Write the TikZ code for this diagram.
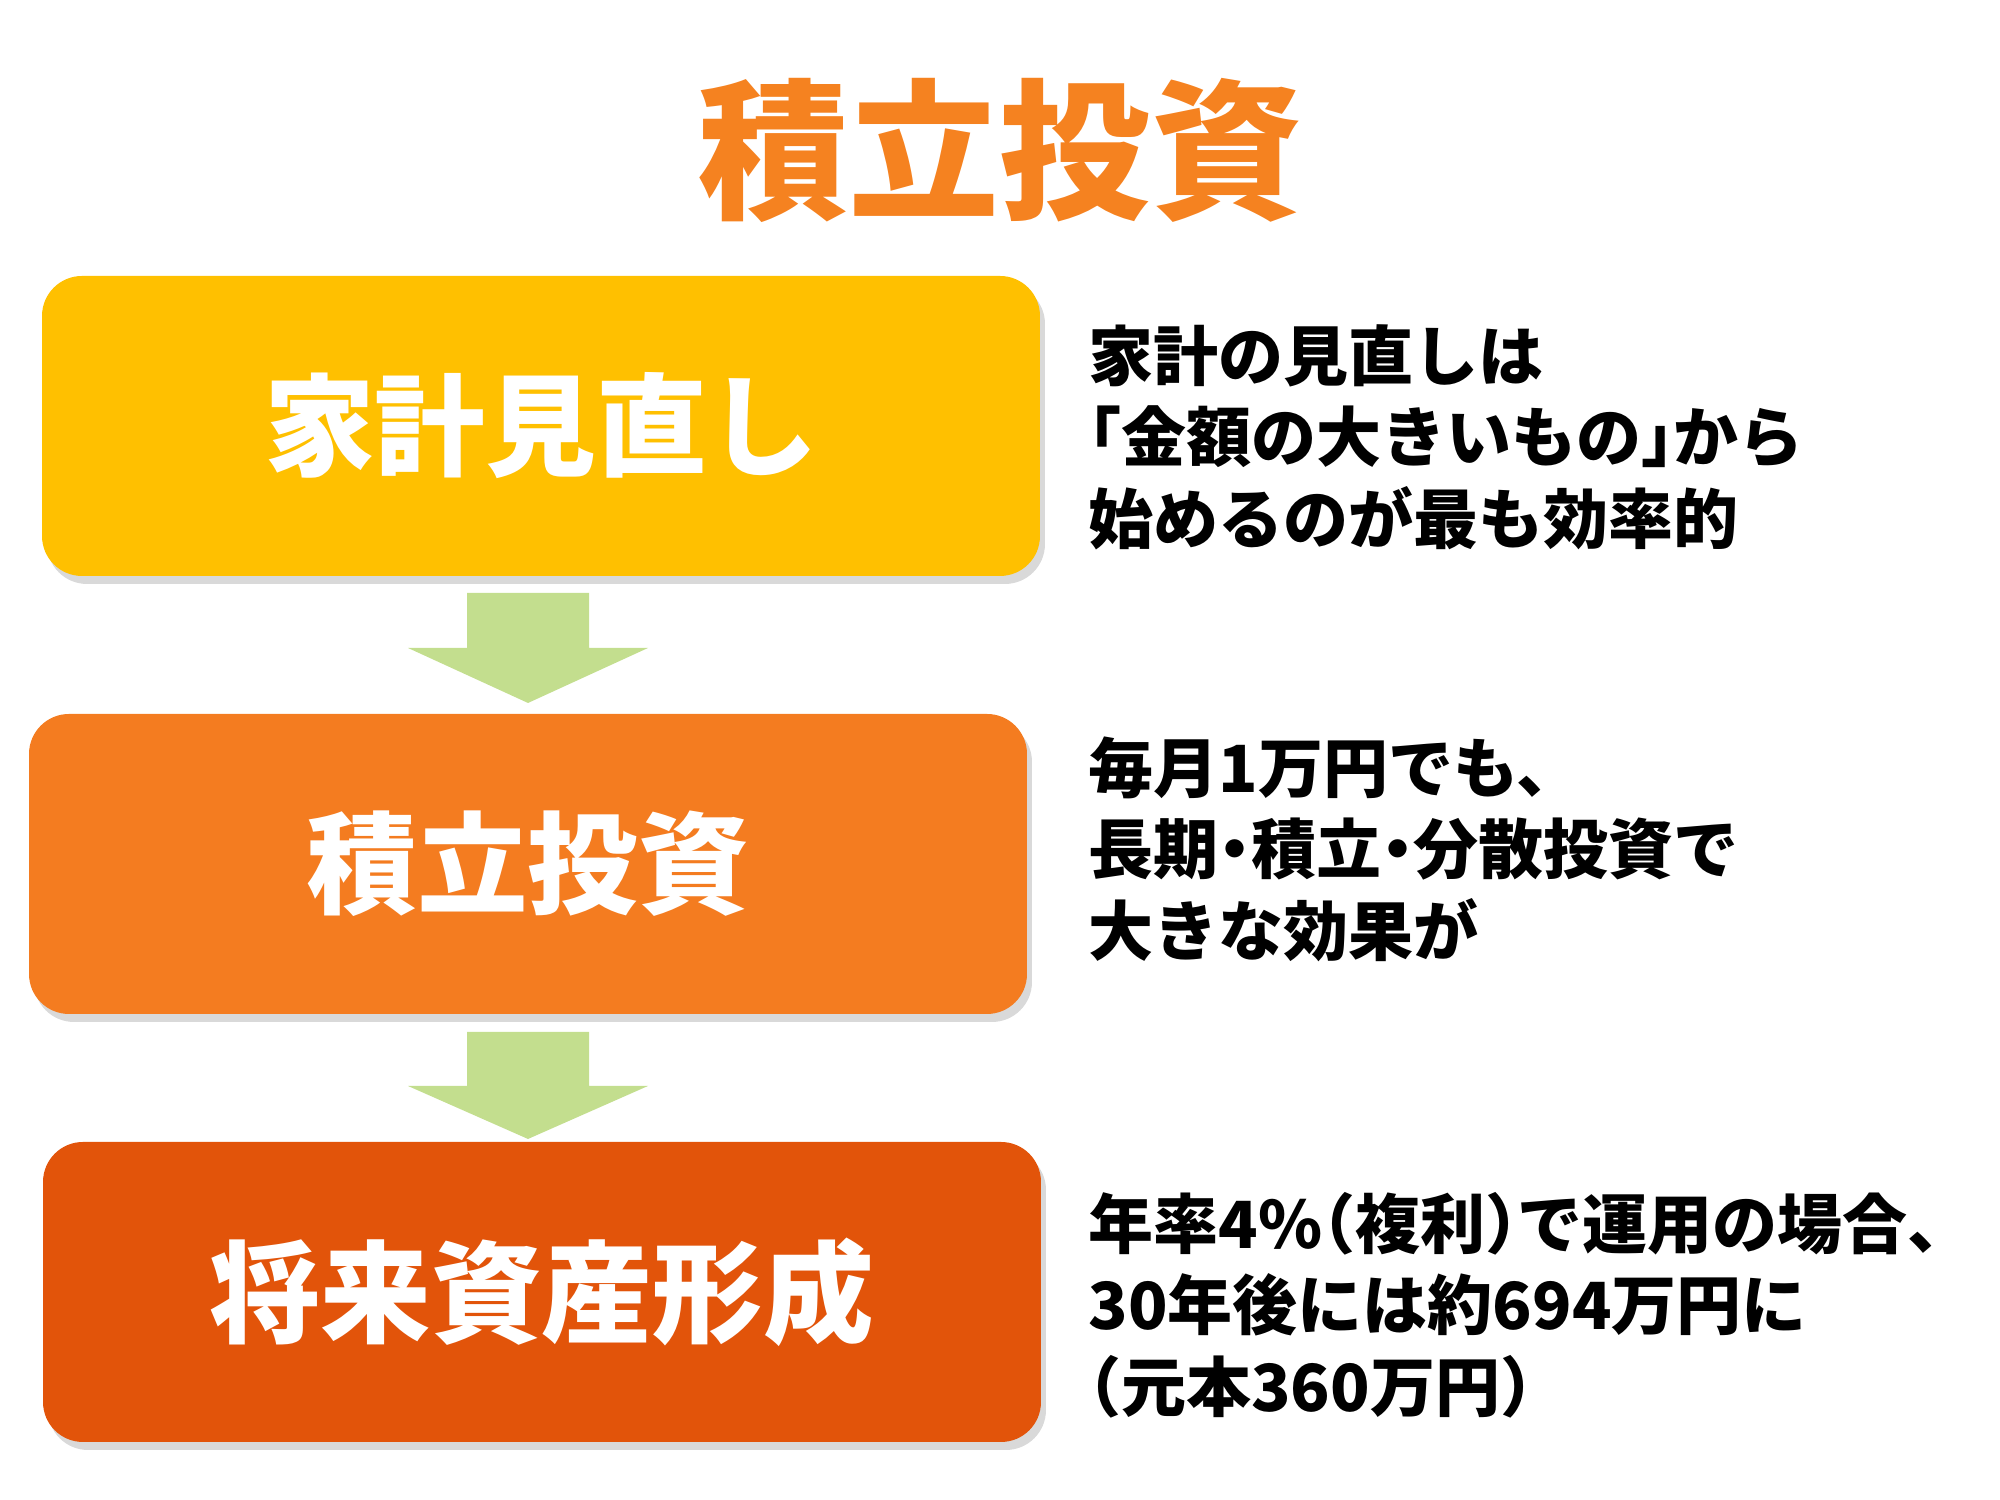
\documentclass[tikz,border=0pt]{standalone}
\usepackage{fontspec}
\setmainfont{Noto Sans CJK JP}
\newfontfamily\notefont{Noto Sans CJK JP}[RawFeature=+halt]
\usetikzlibrary{shadows}
\definecolor{kakeigold}{HTML}{FFC000}
\definecolor{tsumiorange}{HTML}{F47C20}
\definecolor{shisanred}{HTML}{E2540A}
\definecolor{flowgreen}{HTML}{C3DE8E}
\definecolor{titleorange}{HTML}{F58220}
\begin{document}
\begin{tikzpicture}
  [x=0.1mm,y=0.1mm,
  every node/.style={inner sep=0pt},
  stage/.style={rounded corners=4mm,text=white,minimum width=99.8mm,minimum height=30mm,
    font=\bfseries\fontsize{31.5pt}{31.5pt}\selectfont,
    drop shadow={shadow xshift=0.5mm,shadow yshift=-0.8mm,opacity=0.3}},
  note/.style={anchor=west,align=left,font=\notefont\bfseries\fontsize{18.5pt}{23.2pt}\selectfont},
  flow/.style={fill=flowgreen}]
  \useasboundingbox (0,0) rectangle (2000,1500);
  \node[text=titleorange,font=\bfseries\fontsize{43pt}{43pt}\selectfont] (title) at (1000,1350) {積立投資};
  \node[stage,fill=kakeigold] (kakei) at (541,1074) {家計見直し};
  \node[stage,fill=tsumiorange] (tsumitate) at (528,636) {積立投資};
  \node[stage,fill=shisanred] (shisan) at (542,208) {将来資産形成};
  \node[note] (note1) at (1088,1063) {家計の見直しは\\「金額の大きいもの」から\\始めるのが最も効率的};
  \node[note] (note2) at (1088,651) {毎月1万円でも、\\長期・積立・分散投資で\\大きな効果が};
  \node[note] (note3) at (1088,195) {年率4\%（複利）で運用の場合、\\30年後には約694万円に\\（元本360万円）};
  \coordinate (tip1) at (528,797);
  \coordinate (tip2) at (528,361);
  \fill[flow] (tip1) -- ++(120,55) -- ++(-59,0) -- ++(0,55) -- ++(-122,0) -- ++(0,-55) -- ++(-59,0) -- cycle;
  \fill[flow] (tip2) -- ++(120,53) -- ++(-59,0) -- ++(0,54) -- ++(-122,0) -- ++(0,-54) -- ++(-59,0) -- cycle;
\end{tikzpicture}
\end{document}
